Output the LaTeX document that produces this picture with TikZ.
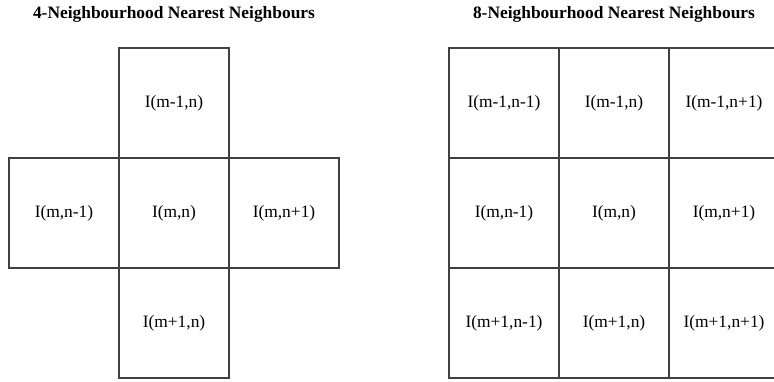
\documentclass[tikz,border=0pt]{standalone}
\usepackage{fontspec}
\setmainfont{Liberation Serif}
\usepackage{tikz}
\usetikzlibrary{positioning}

\tikzset{
  cell/.style={draw=black!75, line width=1.1pt, minimum width=110pt, minimum height=110pt,
    inner sep=0pt, outer sep=0pt, font=\fontsize{17.4}{20}\selectfont},
  title/.style={font=\fontsize{17.4}{20}\selectfont\bfseries}
}

\begin{document}
\begin{tikzpicture}[x=1pt, y=1pt]
  \useasboundingbox (0,0) rectangle (774,381);
  \clip (0,0) rectangle (774,381);

  % ---- 4-Neighbourhood ----
  \node[title] (ttlfour) at (174,367) {4-Neighbourhood Nearest Neighbours};
  \node[cell] (fc) at (174,168) {I(m,n)};
  \node[cell, above=0pt of fc] (fn) {I(m-1,n)};
  \node[cell, below=0pt of fc] (fs) {I(m+1,n)};
  \node[cell, left=0pt of fc] (fw) {I(m,n-1)};
  \node[cell, right=0pt of fc] (fe) {I(m,n+1)};

  % ---- 8-Neighbourhood ----
  \node[title] (ttleight) at (614,367) {8-Neighbourhood Nearest Neighbours};
  \foreach \r/\c/\lab in {1/1/{I(m-1,n-1)}, 1/2/{I(m-1,n)}, 1/3/{I(m-1,n+1)},
                          2/1/{I(m,n-1)},   2/2/{I(m,n)},   2/3/{I(m,n+1)},
                          3/1/{I(m+1,n-1)}, 3/2/{I(m+1,n)}, 3/3/{I(m+1,n+1)}}
    \node[cell] (e\r\c) at (394+110*\c, 388-110*\r) {\lab};
\end{tikzpicture}
\end{document}
